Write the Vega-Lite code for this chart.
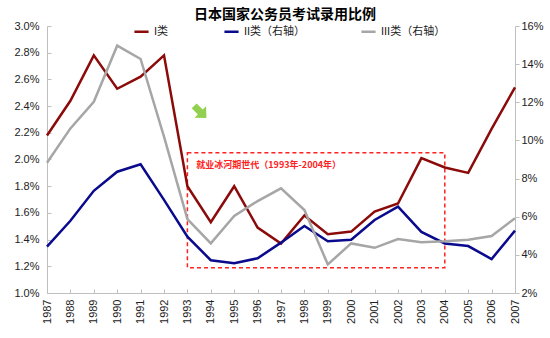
{
  "$schema": "https://vega.github.io/schema/vega-lite/v6.json",
  "width": 468,
  "height": 267,
  "autosize": "none",
  "padding": {"left": 47, "top": 26, "right": 35, "bottom": 45},
  "background": "white",
  "config": {
    "font": "Liberation Sans, Noto Sans CJK SC",
    "view": {"stroke": null},
    "axis": {
      "grid": false,
      "domainColor": "#bfbfbf",
      "tickColor": "#bfbfbf",
      "labelColor": "#222222",
      "labelFontSize": 11,
      "labelFont": "Liberation Sans",
      "labelOverlap": false,
      "labelFlush": false,
      "title": null
    }
  },
  "title": {
    "text": "日本国家公务员考试录用比例",
    "fontSize": 14,
    "fontWeight": "bold",
    "font": "Noto Sans CJK SC",
    "color": "#000000",
    "anchor": "middle",
    "offset": 0,
    "dx": 4,
    "dy": 2
  },
  "datasets": {
    "lines": [
      {"year": 1987, "series": "I类", "value": 0.0218},
      {"year": 1988, "series": "I类", "value": 0.0244},
      {"year": 1989, "series": "I类", "value": 0.0278},
      {"year": 1990, "series": "I类", "value": 0.0253},
      {"year": 1991, "series": "I类", "value": 0.0262},
      {"year": 1992, "series": "I类", "value": 0.0278},
      {"year": 1993, "series": "I类", "value": 0.0180},
      {"year": 1994, "series": "I类", "value": 0.0153},
      {"year": 1995, "series": "I类", "value": 0.0180},
      {"year": 1996, "series": "I类", "value": 0.0149},
      {"year": 1997, "series": "I类", "value": 0.0137},
      {"year": 1998, "series": "I类", "value": 0.0158},
      {"year": 1999, "series": "I类", "value": 0.0144},
      {"year": 2000, "series": "I类", "value": 0.0146},
      {"year": 2001, "series": "I类", "value": 0.0161},
      {"year": 2002, "series": "I类", "value": 0.0167},
      {"year": 2003, "series": "I类", "value": 0.0201},
      {"year": 2004, "series": "I类", "value": 0.0194},
      {"year": 2005, "series": "I类", "value": 0.0190},
      {"year": 2006, "series": "I类", "value": 0.0223},
      {"year": 2007, "series": "I类", "value": 0.0254},
      {"year": 1987, "series": "II类（右轴）", "value": 0.0443},
      {"year": 1988, "series": "II类（右轴）", "value": 0.0579},
      {"year": 1989, "series": "II类（右轴）", "value": 0.0736},
      {"year": 1990, "series": "II类（右轴）", "value": 0.0836},
      {"year": 1991, "series": "II类（右轴）", "value": 0.0875},
      {"year": 1992, "series": "II类（右轴）", "value": 0.0688},
      {"year": 1993, "series": "II类（右轴）", "value": 0.0495},
      {"year": 1994, "series": "II类（右轴）", "value": 0.0372},
      {"year": 1995, "series": "II类（右轴）", "value": 0.0356},
      {"year": 1996, "series": "II类（右轴）", "value": 0.0382},
      {"year": 1997, "series": "II类（右轴）", "value": 0.0464},
      {"year": 1998, "series": "II类（右轴）", "value": 0.0551},
      {"year": 1999, "series": "II类（右轴）", "value": 0.0471},
      {"year": 2000, "series": "II类（右轴）", "value": 0.0479},
      {"year": 2001, "series": "II类（右轴）", "value": 0.0583},
      {"year": 2002, "series": "II类（右轴）", "value": 0.0653},
      {"year": 2003, "series": "II类（右轴）", "value": 0.0520},
      {"year": 2004, "series": "II类（右轴）", "value": 0.0460},
      {"year": 2005, "series": "II类（右轴）", "value": 0.0446},
      {"year": 2006, "series": "II类（右轴）", "value": 0.0378},
      {"year": 2007, "series": "II类（右轴）", "value": 0.0527},
      {"year": 1987, "series": "III类（右轴）", "value": 0.0883},
      {"year": 1988, "series": "III类（右轴）", "value": 0.1063},
      {"year": 1989, "series": "III类（右轴）", "value": 0.1203},
      {"year": 1990, "series": "III类（右轴）", "value": 0.1497},
      {"year": 1991, "series": "III类（右轴）", "value": 0.1427},
      {"year": 1992, "series": "III类（右轴）", "value": 0.1020},
      {"year": 1993, "series": "III类（右轴）", "value": 0.0588},
      {"year": 1994, "series": "III类（右轴）", "value": 0.0460},
      {"year": 1995, "series": "III类（右轴）", "value": 0.0604},
      {"year": 1996, "series": "III类（右轴）", "value": 0.0682},
      {"year": 1997, "series": "III类（右轴）", "value": 0.0749},
      {"year": 1998, "series": "III类（右轴）", "value": 0.0635},
      {"year": 1999, "series": "III类（右轴）", "value": 0.0350},
      {"year": 2000, "series": "III类（右轴）", "value": 0.0460},
      {"year": 2001, "series": "III类（右轴）", "value": 0.0437},
      {"year": 2002, "series": "III类（右轴）", "value": 0.0483},
      {"year": 2003, "series": "III类（右轴）", "value": 0.0466},
      {"year": 2004, "series": "III类（右轴）", "value": 0.0471},
      {"year": 2005, "series": "III类（右轴）", "value": 0.0479},
      {"year": 2006, "series": "III类（右轴）", "value": 0.0499},
      {"year": 2007, "series": "III类（右轴）", "value": 0.0592}
    ]
  },
  "layer": [
    {
      "layer": [
        {
          "data": {"values": [{}]},
          "mark": {"type": "rect", "fill": "white", "fillOpacity": 0, "stroke": "#ff2020", "strokeWidth": 1.5, "strokeDash": [4, 3]},
          "encoding": {
            "x": {"datum": 1993, "type": "quantitative",
              "scale": {"domain": [1987, 2007], "nice": false, "zero": false},
              "axis": {"values": [1987,1988,1989,1990,1991,1992,1993,1994,1995,1996,1997,1998,1999,2000,2001,2002,2003,2004,2005,2006,2007], "format": "d", "labelAngle": 270, "labelAlign": "right", "labelBaseline": "middle", "tickSize": -4, "labelPadding": 10, "labelOverlap": false, "labelFlush": false, "labelBound": false, "title": null}},
            "x2": {"datum": 2004},
            "y": {"datum": 0.0205, "type": "quantitative",
              "scale": {"domain": [0.01, 0.03], "nice": false, "zero": false},
              "axis": {"orient": "left", "values": [0.01,0.012,0.014,0.016,0.018,0.02,0.022,0.024,0.026,0.028,0.03], "format": ".1%", "tickSize": -4, "labelPadding": 12, "labelOverlap": false, "labelFlush": false, "title": null}},
            "y2": {"datum": 0.0119}
          }
        },
        {
          "data": {"values": [{}]},
          "mark": {"type": "text", "text": "就业冰河期世代（1993年-2004年）", "align": "left", "baseline": "middle", "color": "#ff2020", "fontSize": 9, "fontWeight": "bold", "font": "Noto Sans CJK SC"},
          "encoding": {
            "x": {"datum": 1993.38, "type": "quantitative",
              "scale": {"domain": [1987, 2007], "nice": false, "zero": false},
              "axis": {"values": [1987,1988,1989,1990,1991,1992,1993,1994,1995,1996,1997,1998,1999,2000,2001,2002,2003,2004,2005,2006,2007], "format": "d", "labelAngle": 270, "labelAlign": "right", "labelBaseline": "middle", "tickSize": -4, "labelPadding": 10, "labelOverlap": false, "labelFlush": false, "labelBound": false, "title": null}},
            "y": {"datum": 0.01959, "type": "quantitative",
              "scale": {"domain": [0.01, 0.03], "nice": false, "zero": false},
              "axis": {"orient": "left", "values": [0.01,0.012,0.014,0.016,0.018,0.02,0.022,0.024,0.026,0.028,0.03], "format": ".1%", "tickSize": -4, "labelPadding": 12, "labelOverlap": false, "labelFlush": false, "title": null}}
          }
        },
        {
          "data": {"values": [{}]},
          "mark": {"type": "point", "shape": "M-0.4,-1L0.4,-1L0.4,0L0.95,0L0,1L-0.95,0L-0.4,0Z", "filled": true, "color": "#92d050", "opacity": 1, "size": 300, "angle": -45},
          "encoding": {
            "x": {"datum": 1993.55, "type": "quantitative",
              "scale": {"domain": [1987, 2007], "nice": false, "zero": false},
              "axis": {"values": [1987,1988,1989,1990,1991,1992,1993,1994,1995,1996,1997,1998,1999,2000,2001,2002,2003,2004,2005,2006,2007], "format": "d", "labelAngle": 270, "labelAlign": "right", "labelBaseline": "middle", "tickSize": -4, "labelPadding": 10, "labelOverlap": false, "labelFlush": false, "labelBound": false, "title": null}},
            "y": {"datum": 0.02356, "type": "quantitative",
              "scale": {"domain": [0.01, 0.03], "nice": false, "zero": false},
              "axis": {"orient": "left", "values": [0.01,0.012,0.014,0.016,0.018,0.02,0.022,0.024,0.026,0.028,0.03], "format": ".1%", "tickSize": -4, "labelPadding": 12, "labelOverlap": false, "labelFlush": false, "title": null}}
          }
        },
        {
          "data": {"name": "lines"},
          "transform": [{"filter": "datum.series === 'I类'"}],
          "mark": {"type": "line", "strokeWidth": 2.5},
          "encoding": {
            "x": {
              "field": "year", "type": "quantitative",
              "scale": {"domain": [1987, 2007], "nice": false, "zero": false},
              "axis": {"values": [1987,1988,1989,1990,1991,1992,1993,1994,1995,1996,1997,1998,1999,2000,2001,2002,2003,2004,2005,2006,2007], "format": "d", "labelAngle": 270, "labelAlign": "right", "labelBaseline": "middle", "tickSize": -4, "labelPadding": 10, "labelOverlap": false, "labelFlush": false, "labelBound": false, "title": null}
            },
            "y": {
              "field": "value", "type": "quantitative",
              "scale": {"domain": [0.01, 0.03], "nice": false, "zero": false},
              "axis": {"orient": "left", "values": [0.01,0.012,0.014,0.016,0.018,0.02,0.022,0.024,0.026,0.028,0.03], "format": ".1%", "tickSize": -4, "labelPadding": 12, "labelOverlap": false, "labelFlush": false, "title": null}
            },
            "color": {
              "field": "series", "type": "nominal",
              "scale": {"domain": ["I类", "II类（右轴）", "III类（右轴）"], "range": ["#8B0A0A", "#0A0A8C", "#A6A6A6"]},
              "legend": {"orient": "none", "legendX": 86, "legendY": -3, "direction": "horizontal", "title": null, "symbolType": "stroke", "symbolStrokeWidth": 2.5, "symbolSize": 200, "labelFontSize": 11, "labelFont": "Liberation Sans, Noto Sans CJK SC", "labelColor": "#222222", "columnPadding": 50}
            }
          }
        }
      ]
    },
    {
      "data": {"name": "lines"},
      "transform": [{"filter": "datum.series !== 'I类'"}],
      "mark": {"type": "line", "strokeWidth": 2.5},
      "encoding": {
        "x": {
          "field": "year", "type": "quantitative",
          "scale": {"domain": [1987, 2007], "nice": false, "zero": false},
          "axis": {"values": [1987,1988,1989,1990,1991,1992,1993,1994,1995,1996,1997,1998,1999,2000,2001,2002,2003,2004,2005,2006,2007], "format": "d", "labelAngle": 270, "labelAlign": "right", "labelBaseline": "middle", "tickSize": -4, "labelPadding": 10, "labelOverlap": false, "labelFlush": false, "labelBound": false, "title": null}
        },
        "y": {
          "field": "value", "type": "quantitative",
          "scale": {"domain": [0.02, 0.16], "nice": false, "zero": false},
          "axis": {"orient": "right", "values": [0.02,0.04,0.06,0.08,0.1,0.12,0.14,0.16], "format": ".0%", "tickSize": 4, "labelPadding": 2, "labelOverlap": false, "labelFlush": false, "title": null}
        },
        "color": {"field": "series", "type": "nominal"}
      }
    }
  ],
  "resolve": {"scale": {"y": "independent"}, "axis": {"y": "independent"}}
}
